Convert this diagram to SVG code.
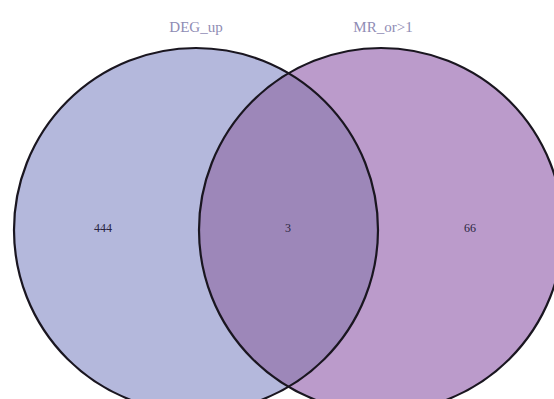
<svg xmlns="http://www.w3.org/2000/svg" width="554" height="399" viewBox="0 0 554 399">
<style>
.lbl{font-family:"Liberation Serif",serif;font-size:15px;fill:#8f8cb4;text-anchor:middle}
.num{font-family:"Liberation Serif",serif;font-size:12px;fill:#2a2540;text-anchor:middle}
.edge{fill:none;stroke:#1a1620;stroke-width:2.2}
</style>
<defs>
<clipPath id="clipL"><circle cx="196" cy="230" r="182"/></clipPath>
</defs>
<rect width="554" height="399" fill="#ffffff"/>
<g id="set-deg">
<circle cx="196" cy="230" r="182" fill="#b4b8dc"/>
<text class="lbl" x="196" y="32">DEG_up</text>
<text class="num" x="103" y="232">444</text>
</g>
<g id="set-mr">
<circle cx="381" cy="230" r="182" fill="#bb9bcb"/>
<text class="lbl" x="383" y="32">MR_or&gt;1</text>
<text class="num" x="470" y="232">66</text>
</g>
<g id="overlap">
<circle cx="381" cy="230" r="182" fill="#9d87b9" clip-path="url(#clipL)"/>
<text class="num" x="288" y="232">3</text>
</g>
<g id="connectors">
<circle class="edge" cx="196" cy="230" r="182"/>
<circle class="edge" cx="381" cy="230" r="182"/>
</g>
</svg>
